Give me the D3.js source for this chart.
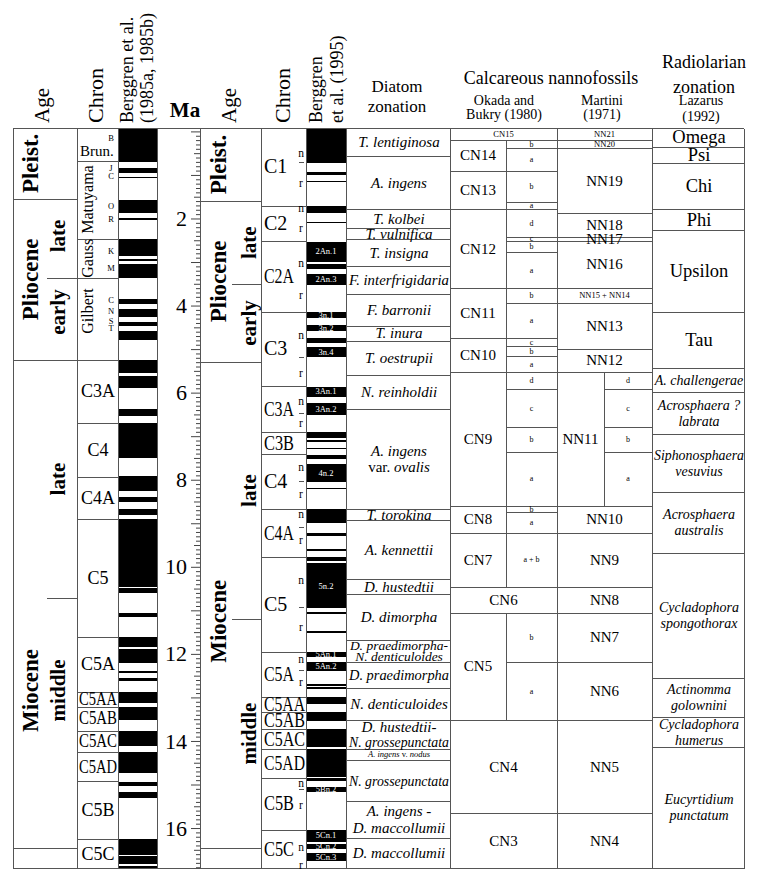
<!DOCTYPE html>
<html><head><meta charset="utf-8">
<script src="https://cdn.jsdelivr.net/npm/d3@7/dist/d3.min.js"></script>
<style>
html,body{margin:0;padding:0;background:#fff;}
svg text{font-family:"Liberation Serif","Times New Roman",serif;fill:#000;}
</style></head><body>
<svg id="chart" width="761" height="882"></svg>
<script>
// ---------------- DATA (ages in Ma) ----------------
const TOP = -0.08, BASE = 16.92;

const ageEpochs1985 = [["Pleist.", TOP, 1.55, null], ["Pliocene", 1.55, 5.25, null], ["Miocene", 5.25, 16.45, 12.84]];
const ageSub1985 = [["late", 1.55, 3.37, 2.40], ["early", 3.37, 5.25, 4.15], ["late", 5.25, 10.72, null], ["middle", 10.72, 16.45, 12.84]];
const ageEpochs1995 = [["Pleist.", TOP, 1.60, null], ["Pliocene", 1.60, 5.29, null], ["Miocene", 5.29, 16.45, 11.25]];
const ageSub1995 = [["late", 1.60, 3.51, null], ["early", 3.51, 5.29, null], ["late", 5.29, 11.21, null], ["middle", 11.21, 16.45, null]];

const chrons1985 = [["Brun.", TOP, 0.67], ["Matuyama", 0.67, 2.46], ["Gauss", 2.46, 3.37], ["Gilbert", 3.37, 5.25],
  ["C3A", 5.25, 6.70], ["C4", 6.70, 7.93], ["C4A", 7.93, 8.91], ["C5", 8.91, 11.61], ["C5A", 11.61, 12.88],
  ["C5AA", 12.88, 13.21], ["C5AB", 13.21, 13.76], ["C5AC", 13.76, 14.25], ["C5AD", 14.25, 14.93],
  ["C5B", 14.93, 16.26], ["C5C", 16.26, BASE]];
const subchrons1985 = [["B", 0.15], ["J", 0.85], ["C", 1.04], ["O", 1.71], ["R", 2.02], ["K", 2.76], ["M", 3.14],
  ["C", 3.87], ["N", 4.14], ["S", 4.37], ["T", 4.52]];
const polarity1985 = [[TOP, 0.70], [0.83, 0.95], [1.04, 1.08], [1.58, 1.88], [2.00, 2.03], [2.47, 2.87], [2.92, 2.98],
  [3.05, 3.37], [3.85, 3.97], [4.08, 4.26], [4.38, 4.48], [4.58, 4.79], [5.25, 5.54], [5.62, 5.90], [6.38, 6.54],
  [6.70, 7.49], [7.91, 8.25], [8.39, 8.51], [8.67, 8.81], [8.91, 10.46], [10.49, 10.61], [11.07, 11.16],
  [11.61, 11.85], [11.89, 12.22], [12.39, 12.45], [12.56, 12.62], [12.88, 13.12], [13.21, 13.52], [13.76, 14.12],
  [14.25, 14.73], [14.94, 15.03], [15.17, 15.32], [16.26, 16.62], [16.65, 16.83], [16.87, BASE]];

const chrons1995 = [["C1", TOP, 1.71], ["C2", 1.71, 2.52], ["C2A", 2.52, 4.14], ["C3", 4.14, 5.85], ["C3A", 5.85, 6.90],
  ["C3B", 6.90, 7.42], ["C4", 7.42, 8.68], ["C4A", 8.68, 9.77], ["C5", 9.77, 11.95], ["C5A", 11.95, 13.00],
  ["C5AA", 13.00, 13.33], ["C5AB", 13.33, 13.72], ["C5AC", 13.72, 14.19], ["C5AD", 14.19, 14.84],
  ["C5B", 14.84, 16.04], ["C5C", 16.04, BASE]];
const polarityLetters1995 = [["n", 0.50], ["r", 1.19], ["n", 1.76], ["r", 2.22], ["n", 3.02], ["r", 3.76], ["n", 4.68], ["r", 5.55],
  ["n", 6.19], ["r", 6.70], ["n", 7.71], ["r", 8.33], ["n", 8.79], ["r", 9.38], ["n", 10.30], ["r", 11.38],
  ["n", 12.12], ["r", 12.66], ["n", 14.96], ["r", 15.47], ["n", 16.44], ["r", 16.85]];
const polarityCuts1995 = [0.71, 5.18, 6.47, 8.02, 9.08, 10.92, 12.37, 15.10];
const polarity1995 = [[TOP, 0.72, ""], [0.93, 1.00, ""], [1.13, 1.16, ""], [1.71, 1.87, ""], [2.07, 2.11, ""],
  [2.53, 2.99, "2An.1"], [3.05, 3.16, ""], [3.28, 3.53, "2An.3"], [4.14, 4.29, "3n.1"], [4.45, 4.58, "3n.2"],
  [4.75, 4.85, ""], [4.96, 5.19, "3n.4"], [5.86, 6.09, "3An.1"], [6.24, 6.51, "3An.2"], [6.91, 7.05, ""],
  [7.09, 7.13, ""], [7.26, 7.30, ""], [7.43, 7.52, ""], [7.64, 8.05, "4n.2"], [8.18, 8.22, ""], [8.68, 9.00, ""],
  [9.23, 9.29, ""], [9.58, 9.63, ""], [9.77, 9.86, ""], [9.92, 10.95, "5n.2"], [11.03, 11.08, ""], [11.47, 11.53, ""],
  [11.95, 12.08, "5An.1"], [12.19, 12.39, "5An.2"], [12.69, 12.74, ""], [12.77, 12.81, ""], [13.00, 13.15, ""],
  [13.33, 13.54, ""], [13.72, 14.13, ""], [14.19, 14.82, ""], [14.85, 14.91, ""], [15.05, 15.17, "5Bn.2"],
  [16.04, 16.31, "5Cn.1"], [16.37, 16.48, "5Cn.2"], [16.58, 16.75, "5Cn.3"]];

const diatomZones = [["T. lentiginosa", TOP, 0.565], ["A. ingens", 0.565, 1.79], ["T. kolbei", 1.79, 2.23],
  ["T. vulnifica", 2.23, 2.48], ["T. insigna", 2.48, 3.09], ["F. interfrigidaria", 3.09, 3.74], ["F. barronii", 3.74, 4.46],
  ["T. inura", 4.46, 4.82], ["T. oestrupii", 4.82, 5.59], ["N. reinholdii", 5.59, 6.38], ["A. ingens|var. ovalis", 6.38, 8.67],
  ["T. torokina", 8.67, 8.93], ["A. kennettii", 8.93, 10.29], ["D. hustedtii", 10.29, 10.63], ["D. dimorpha", 10.63, 11.68],
  ["D. praedimorpha-|N. denticuloides", 11.68, 12.19], ["D. praedimorpha", 12.19, 12.79], ["N. denticuloides", 12.79, 13.52],
  ["D. hustedtii-|N. grossepunctata", 13.52, 14.19], ["A. ingens v. nodus", 14.19, 14.44], ["N. grossepunctata", 14.44, 15.38],
  ["A. ingens -|D. maccollumii", 15.38, 16.22], ["D. maccollumii", 16.22, BASE]];

const cnZones = [["CN15", TOP, 0.20, true], ["CN14", 0.20, 0.90, false], ["CN13", 0.90, 1.79, false], ["CN12", 1.79, 3.60, false],
  ["CN11", 3.60, 4.75, false], ["CN10", 4.75, 5.52, false], ["CN9", 5.52, 8.60, false], ["CN8", 8.60, 9.22, false],
  ["CN7", 9.22, 10.46, false], ["CN6", 10.46, 11.05, true], ["CN5", 11.05, 13.52, false], ["CN4", 13.52, 15.66, true],
  ["CN3", 15.66, BASE, true]];
const cnSubzones = [["b", 0.20, 0.39], ["a", 0.39, 0.90], ["b", 0.90, 1.63], ["a", 1.63, 1.79], ["d", 1.79, 2.42], ["c", 2.42, 2.51],
  ["b", 2.51, 2.78], ["a", 2.78, 3.60], ["b", 3.60, 3.93], ["a", 3.93, 4.75], ["c", 4.75, 4.93], ["b", 4.93, 5.16], ["a", 5.16, 5.52],
  ["d", 5.52, 5.92], ["c", 5.92, 6.78], ["b", 6.78, 7.36], ["a", 7.36, 8.60], ["b", 8.60, 8.75], ["a", 8.75, 9.22],
  ["a + b", 9.22, 10.46], ["b", 11.05, 12.19], ["a", 12.19, 13.52]];
const nnZones = [["NN21", TOP, 0.20], ["NN20", 0.20, 0.39], ["NN19", 0.39, 1.88], ["NN18", 1.88, 2.42], ["NN17", 2.42, 2.51],
  ["NN16", 2.51, 3.60], ["NN15 + NN14", 3.60, 3.93], ["NN13", 3.93, 5.00], ["NN12", 5.00, 5.52], ["NN11", 5.52, 8.60],
  ["NN10", 8.60, 9.22], ["NN9", 9.22, 10.46], ["NN8", 10.46, 11.05], ["NN7", 11.05, 12.19], ["NN6", 12.19, 13.52],
  ["NN5", 13.52, 15.66], ["NN4", 15.66, BASE]];
const nnSubzones = [["d", 5.52, 5.92], ["c", 5.92, 6.78], ["b", 6.78, 7.36], ["a", 7.36, 8.60]];

const radZones = [["Omega", TOP, 0.35], ["Psi", 0.35, 0.73], ["Chi", 0.73, 1.79], ["Phi", 1.79, 2.26], ["Upsilon", 2.26, 4.14],
  ["Tau", 4.14, 5.44], ["A. challengerae", 5.44, 5.99], ["Acrosphaera ?|labrata", 5.99, 6.95],
  ["Siphonosphaera|vesuvius", 6.95, 8.29], ["Acrosphaera|australis", 8.29, 9.69], ["Cycladophora|spongothorax", 9.69, 12.55],
  ["Actinomma|golownini", 12.55, 13.46], ["Cycladophora|humerus", 13.46, 14.15], ["Eucyrtidium|punctatum", 14.15, BASE]];
const greekZones = ["Omega", "Psi", "Chi", "Phi", "Upsilon", "Tau"];

const maLabels = [2, 4, 6, 8, 10, 12, 14, 16];

// ---------------- LAYOUT ----------------
const X = {a1L: 13, a1S: 47, a1R: 77, c1R: 118, p1R: 157, maR: 200, a2S: 232, a2R: 261, c2R: 306, p2R: 346,
  diR: 450, cnS: 506, cnR: 557, nnS: 604, nnR: 652, raR: 744};
const PX_PER_MA = 43.54, Y0 = 131.4;
const y = d3.scaleLinear().domain([TOP, BASE]).range([Y0 + PX_PER_MA * TOP, Y0 + PX_PER_MA * BASE]);
const LINE = "#555";
const FONT = "'Liberation Serif','Times New Roman',serif";
const SMALL = new Set(["A. ingens v. nodus", "CN15", "NN21", "NN20", "NN15 + NN14"]);
const UPRIGHT = new Set(["var.", "v."]);

const svg = d3.select("#chart");
const gBars = svg.append("g").attr("shape-rendering", "crispEdges");
const gLines = svg.append("g").attr("stroke", LINE).attr("stroke-width", 1).attr("shape-rendering", "crispEdges");
const gText = svg.append("g").attr("font-family", FONT);

const ry = a => Math.round(y(a)) + 0.5;
function hline(x1, x2, a) { gLines.append("line").attr("x1", x1).attr("x2", x2).attr("y1", ry(a)).attr("y2", ry(a)); }
function vline(x, a, b) { gLines.append("line").attr("x1", x + 0.5).attr("x2", x + 0.5).attr("y1", ry(a)).attr("y2", ry(b)); }
const mid = (a, b) => (y(a) + y(b)) / 2;

function fit(t, maxW) {
  const w = t.node().getComputedTextLength();
  if (maxW && w > maxW) t.attr("textLength", maxW).attr("lengthAdjust", "spacingAndGlyphs");
  return t;
}
// horizontal text, yc = visual center
function htext(x, yc, str, o = {}) {
  const size = o.size || 14;
  const t = gText.append("text").attr("x", x).attr("y", yc + size * 0.33)
    .attr("text-anchor", o.anchor || "middle").attr("font-size", size)
    .attr("font-weight", o.weight || "normal").attr("font-style", o.italic ? "italic" : "normal");
  if (o.fill) t.style("fill", o.fill);
  if (o.rich) {
    str.split(" ").forEach((w, i, arr) => {
      t.append("tspan").attr("font-style", UPRIGHT.has(w) ? "normal" : "italic").text(w + (i < arr.length - 1 ? " " : ""));
    });
  } else t.text(str);
  return fit(t, o.maxW);
}
function multiText(x, yc, str, o) {
  const lines = str.split("|");
  const gap = o.gap || o.size * 1.1;
  lines.forEach((ln, i) => htext(x, yc + (i - (lines.length - 1) / 2) * gap, ln, o));
}
// rotated (bottom-to-top) text, centered at (xc, yc)
function vtext(xc, yc, str, o = {}) {
  const size = o.size || 14;
  return gText.append("text").attr("transform", `translate(${xc + size * 0.33},${yc}) rotate(-90)`)
    .attr("text-anchor", o.anchor || "middle").attr("font-size", size).attr("font-weight", o.weight || "normal")
    .text(str);
}
// rotated header, lines listed left to right, bottom anchored
function vheader(xBase, yBottom, lines, size, gap, weight) {
  lines.forEach((ln, i) => gText.append("text")
    .attr("transform", `translate(${xBase + i * gap},${yBottom}) rotate(-90)`)
    .attr("font-size", size).attr("font-weight", weight || "normal").text(ln));
}

// ---------------- POLARITY BARS ----------------
gBars.selectAll("rect.p85").data(polarity1985).join("rect").attr("class", "p85")
  .attr("x", X.c1R).attr("width", X.p1R - X.c1R)
  .attr("y", d => y(d[0])).attr("height", d => y(d[1]) - y(d[0])).attr("fill", "#000");
gBars.selectAll("rect.p95").data(polarity1995).join("rect").attr("class", "p95")
  .attr("x", X.c2R).attr("width", X.p2R - X.c2R)
  .attr("y", d => y(d[0])).attr("height", d => y(d[1]) - y(d[0])).attr("fill", "#000");
polarity1995.filter(d => d[2]).forEach(d =>
  htext((X.c2R + X.p2R) / 2, mid(d[0], d[1]), d[2], {size: 8.5, fill: "#fff"}));

// ---------------- FRAME & VERTICAL LINES ----------------
hline(X.a1L, X.raR, TOP);
hline(X.a1L, X.raR, BASE);
[X.a1L, X.a1R, X.c1R, X.p1R, X.a2R, X.c2R, X.p2R, X.diR, X.cnR, X.nnR, X.raR].forEach(x => vline(x, TOP, BASE));
cnZones.filter(d => !d[3]).forEach(d => vline(X.cnS, d[1], d[2]));
vline(X.nnS, nnSubzones[0][1], nnSubzones[nnSubzones.length - 1][2]);

// ---------------- AGE COLUMNS ----------------
function ageColumn(epochs, subs, xL, xS, xR, xEp, xSub) {
  epochs.forEach(d => {
    hline(xL, xR, d[2]);
    vtext(xEp, d[3] != null ? y(d[3]) : mid(d[1], d[2]), d[0], {size: 23, weight: "bold"});
  });
  const epB = new Set(epochs.map(d => d[2]));
  subs.forEach(d => {
    if (!epB.has(d[2])) hline(xS, xR, d[2]);
    vtext(xSub, d[3] != null ? y(d[3]) : mid(d[1], d[2]), d[0], {size: 21, weight: "bold"});
  });
}
ageColumn(ageEpochs1985, ageSub1985, X.a1L, X.a1S, X.a1R, 30.5, 58.5);
ageColumn(ageEpochs1995, ageSub1995, X.maR, X.a2S, X.a2R, 218, 249);

// ---------------- CHRON 1985 ----------------
chrons1985.forEach((d, i) => {
  if (i < chrons1985.length - 1) hline(X.a1R, X.c1R, d[2]);
  const yc = mid(d[1], d[2]);
  if (d[0] === "Brun.") htext(80, yc + 7, d[0], {size: 15, anchor: "start"});
  else if (["Matuyama", "Gauss", "Gilbert"].includes(d[0])) vtext(88, d[0] === "Gilbert" ? yc - 8 : yc, d[0], {size: 16});
  else htext((X.a1R + X.c1R) / 2 + 0.5, yc, d[0], {size: 18, maxW: 38});
});
subchrons1985.forEach(d => htext(111, y(d[1]), d[0], {size: 8.5}));

// ---------------- CHRON 1995 ----------------
chrons1995.forEach((d, i) => {
  if (i < chrons1995.length - 1) hline(X.a2R, X.c2R, d[2]);
  htext(X.a2R + 3, mid(d[1], d[2]), d[0], {size: 20, anchor: "start", maxW: d[0].length > 3 ? 41 : 30});
});
polarityLetters1995.forEach(d => htext(301, y(d[1]), d[0], {size: 11.5}));
polarityCuts1995.forEach(a => gLines.append("line").attr("x1", 299).attr("x2", 304).attr("y1", ry(a)).attr("y2", ry(a)));

// ---------------- MA AXIS ----------------
const allTicks = d3.range(0, 170).map(i => i / 10);
const gAx = svg.append("g").attr("transform", `translate(${X.maR},0)`).style("color", "#444");
gAx.append("g").call(d3.axisLeft(y).tickValues(allTicks.filter(v => Math.abs(v * 2 - Math.round(v * 2)) > 1e-6))
  .tickSize(4).tickFormat("")).call(g => g.select(".domain").remove());
gAx.append("g").call(d3.axisLeft(y).tickValues(d3.range(0.5, 17, 1)).tickSize(6).tickFormat(""))
  .call(g => g.select(".domain").remove());
const major = gAx.append("g").call(d3.axisLeft(y).tickValues(d3.range(0, 17)).tickSize(9).tickSizeOuter(0).tickPadding(4)
  .tickFormat(d => maLabels.includes(d) ? d : ""));
major.selectAll("text").attr("font-size", 22).attr("font-family", FONT).style("fill", "#000");
major.select(".domain").attr("stroke", LINE);

// ---------------- DIATOMS ----------------
diatomZones.forEach((d, i) => {
  if (i < diatomZones.length - 1) hline(X.p2R, X.diR, d[2]);
  const h = y(d[2]) - y(d[1]);
  const small = SMALL.has(d[0]);
  const size = small ? 8.5 : (h < 25 && d[0].includes("|") ? 13.5 : 15);
  multiText((X.p2R + X.diR) / 2 + 1, mid(d[1], d[2]), d[0], {size, rich: true, maxW: 100, gap: Math.min(16.5, h * 0.5)});
});

// ---------------- NANNOFOSSILS ----------------
cnZones.forEach(d => {
  hline(X.diR, X.cnR, d[1]);
  const xc = d[3] ? (X.diR + X.cnR) / 2 : (X.diR + X.cnS) / 2;
  htext(xc, mid(d[1], d[2]), d[0], {size: SMALL.has(d[0]) ? 8.5 : 15});
});
cnSubzones.forEach(d => {
  hline(X.cnS, X.cnR, d[1]);
  htext((X.cnS + X.cnR) / 2, mid(d[1], d[2]), d[0], {size: 8});
});
nnZones.forEach(d => {
  hline(X.cnR, X.nnR, d[1]);
  const xc = d[0] === "NN11" ? (X.cnR + X.nnS) / 2 : (X.cnR + X.nnR) / 2;
  htext(xc, mid(d[1], d[2]), d[0], {size: SMALL.has(d[0]) ? 8.5 : 15});
});
nnSubzones.forEach(d => {
  hline(X.nnS, X.nnR, d[1]);
  htext((X.nnS + X.nnR) / 2, mid(d[1], d[2]), d[0], {size: 8});
});

// ---------------- RADIOLARIANS ----------------
radZones.forEach(d => {
  hline(X.nnR, X.raR, d[1]);
  const greek = greekZones.includes(d[0]);
  multiText((X.nnR + X.raR) / 2 + 1, mid(d[1], d[2]), d[0],
    {size: greek ? 18.5 : 14, italic: !greek, maxW: 90, gap: 16});
});

// ---------------- HEADERS ----------------
vheader(48.5, 123, ["Age"], 21, 0);
vheader(103, 123, ["Chron"], 22, 0);
vheader(133, 123, ["Berggren et al.", "(1985a, 1985b)"], 18, 20);
htext(185, 110, "Ma", {size: 21, weight: "bold"});
vheader(235.5, 123, ["Age"], 21, 0);
vheader(290, 123, ["Chron"], 22, 0);
vheader(321.5, 123, ["Berggren", "et al. (1995)"], 18, 21);
htext(397, 86, "Diatom", {size: 17});
htext(397, 106, "zonation", {size: 17});
htext(551, 78, "Calcareous nannofossils", {size: 18});
htext(504, 100, "Okada and", {size: 14});
htext(504, 114, "Bukry (1980)", {size: 14});
htext(602, 100, "Martini", {size: 14});
htext(602, 114, "(1971)", {size: 14});
htext(704, 62, "Radiolarian", {size: 18});
htext(704, 87, "zonation", {size: 18});
htext(701, 100, "Lazarus", {size: 14});
htext(701, 116, "(1992)", {size: 14});
</script>
</body></html>
